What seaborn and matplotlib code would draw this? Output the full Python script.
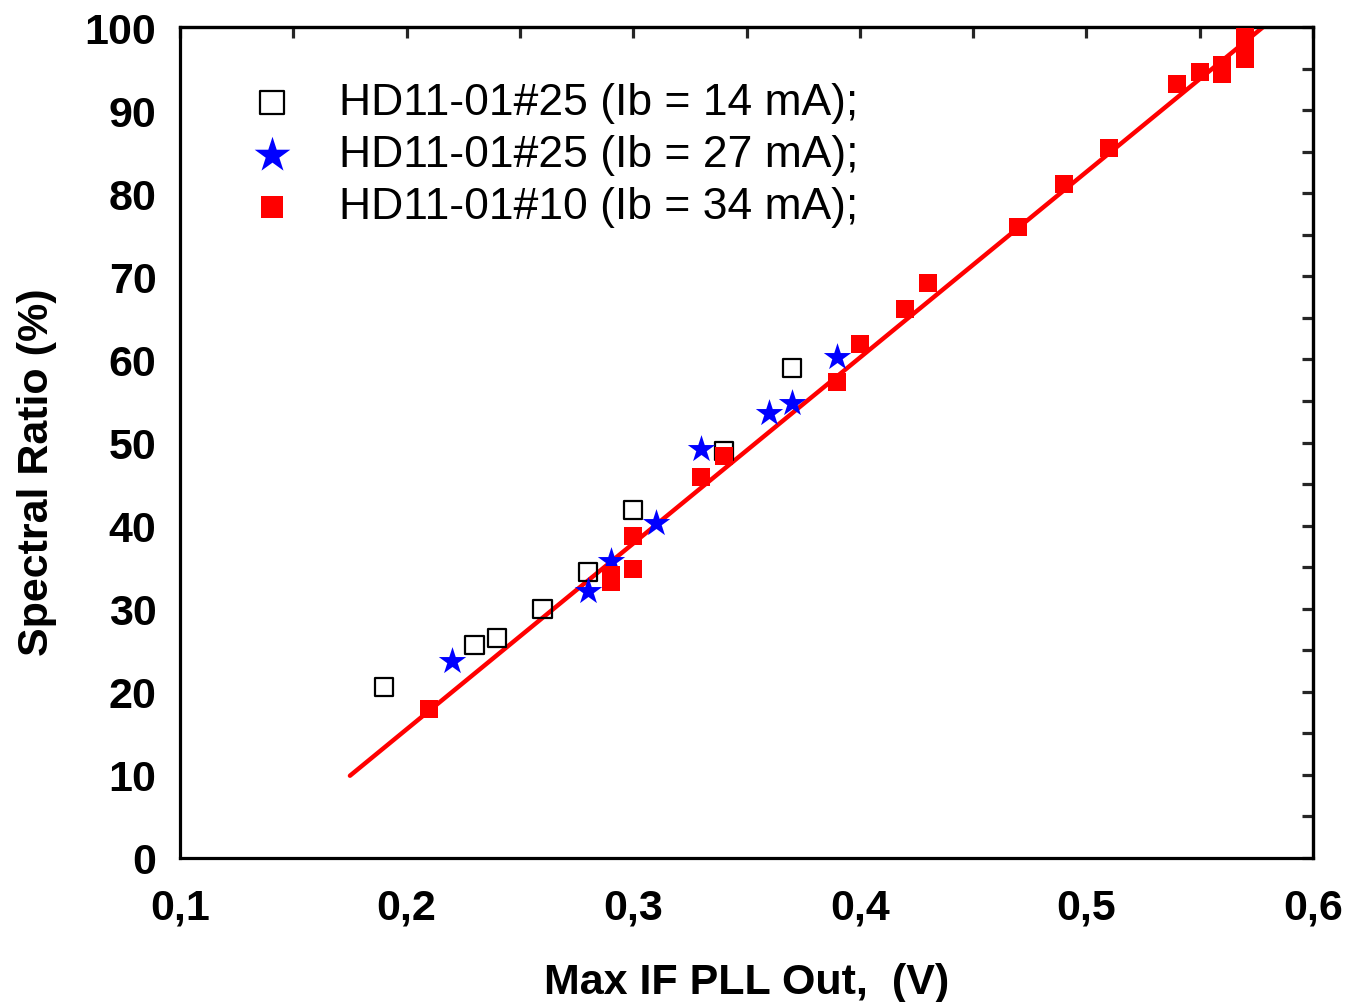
import numpy as np
import pandas as pd
import matplotlib
matplotlib.use("Agg")
import matplotlib.pyplot as plt
import seaborn as sns
from matplotlib.ticker import MultipleLocator, FuncFormatter

# ---- data ----
x14 = [0.19, 0.23, 0.24, 0.26, 0.28, 0.30, 0.34, 0.37]
y14 = [20.6, 25.6, 26.5, 30.0, 34.4, 41.9, 49.0, 59.0]

x27 = [0.22, 0.28, 0.29, 0.31, 0.33, 0.36, 0.37, 0.39]
y27 = [23.7, 32.1, 35.7, 40.3, 49.2, 53.5, 54.8, 60.3]

x34 = [0.21, 0.29, 0.29, 0.30, 0.30, 0.33, 0.34, 0.39, 0.40, 0.42, 0.43,
       0.47, 0.49, 0.51, 0.54, 0.55, 0.56, 0.56, 0.57, 0.57, 0.57]
y34 = [17.9, 34.0, 33.2, 34.8, 38.7, 45.8, 48.4, 57.3, 61.9, 66.1, 69.2,
       75.9, 81.1, 85.4, 93.1, 94.6, 95.4, 94.4, 96.2, 97.5, 98.8]

fit_x = [0.175, 0.578]
fit_y = [9.9, 100.0]

labels = ["HD11-01#25 (Ib = 14 mA);",
          "HD11-01#25 (Ib = 27 mA);",
          "HD11-01#10 (Ib = 34 mA);"]

sns.set_style("white")
plt.rcParams['font.family'] = ['Liberation Sans', 'DejaVu Sans']
plt.rcParams['text.color'] = 'black'
plt.rcParams['axes.labelcolor'] = 'black'

fig = plt.figure(figsize=(13.5, 10.03), dpi=100)
ax = fig.add_axes([180/1350, 1-859/1003, (1313-180)/1350, (859-28)/1003])

sns.lineplot(x=fit_x, y=fit_y, color='red', lw=3.2, ax=ax, zorder=2)
sns.scatterplot(x=x14, y=y14, marker='s', s=175, facecolor='none',
                edgecolor='black', linewidth=1.6, ax=ax, label=labels[0], zorder=3)
sns.scatterplot(x=x27, y=y27, marker='*', s=430, color='blue',
                edgecolor='blue', linewidth=0, ax=ax, label=labels[1], zorder=4)
sns.scatterplot(x=x34, y=y34, marker='s', s=160, color='red',
                edgecolor='red', linewidth=0, ax=ax, label=labels[2], zorder=5)

ax.set_xlim(0.1, 0.6)
ax.set_ylim(0, 100)
ax.xaxis.set_major_locator(MultipleLocator(0.1))
ax.xaxis.set_minor_locator(MultipleLocator(0.05))
ax.yaxis.set_major_locator(MultipleLocator(10))
ax.yaxis.set_minor_locator(MultipleLocator(5))
ax.xaxis.set_major_formatter(FuncFormatter(lambda v, p: f"{v:.1f}".replace('.', ',')))
ax.yaxis.set_major_formatter(FuncFormatter(lambda v, p: f"{int(round(v))}"))

for sp in ax.spines.values():
    sp.set_linewidth(2.3)
    sp.set_color('black')

ax.tick_params(which='major', direction='out', length=12, width=2.3,
               labelsize=31, colors='black')
ax.tick_params(axis='x', which='major', pad=9)
ax.tick_params(axis='y', which='major', pad=5)
ax.tick_params(which='minor', direction='out', length=7, width=2.3)
for lab in ax.get_xticklabels() + ax.get_yticklabels():
    lab.set_fontweight('bold')

# inward ticks on top and right
secx = ax.secondary_xaxis('top')
secx.xaxis.set_major_locator(MultipleLocator(0.1))
secx.xaxis.set_minor_locator(MultipleLocator(0.05))
secx.tick_params(which='both', direction='in', length=8, width=2.3, labeltop=False)
secx.spines['top'].set_linewidth(2.3)
secy = ax.secondary_yaxis('right')
secy.yaxis.set_major_locator(MultipleLocator(10))
secy.yaxis.set_minor_locator(MultipleLocator(5))
secy.tick_params(which='both', direction='in', length=8, width=2.3, labelright=False)
secy.spines['right'].set_linewidth(2.3)

ax.set_xlabel("Max IF PLL Out,  (V)", fontsize=31, fontweight='bold', labelpad=25)
ax.set_ylabel("Spectral Ratio (%)", fontsize=31, fontweight='bold', labelpad=20)
ax.yaxis.label.set_y(0.466)

leg = ax.legend(loc='upper left', bbox_to_anchor=(0.046, 0.955), frameon=False,
                fontsize=32, handlelength=1.0, handletextpad=1.0, labelspacing=0.25,
                borderaxespad=0, markerscale=1.3)
for t in leg.get_texts():
    t.set_color('black')

fig.savefig("out.png", dpi=100)
